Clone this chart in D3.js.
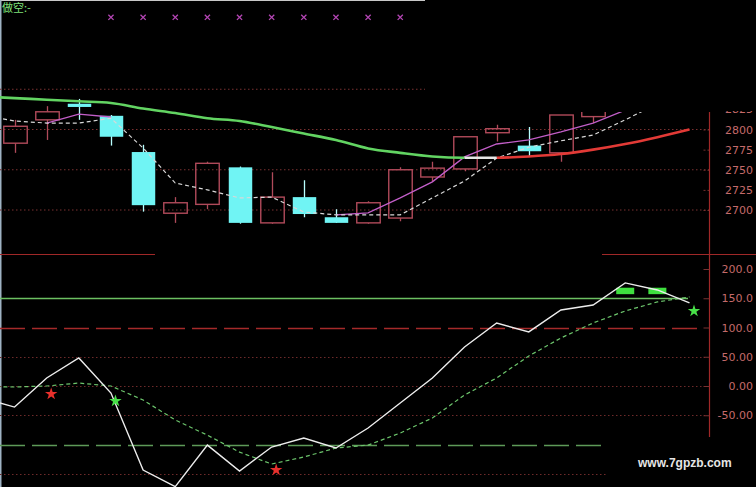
<!DOCTYPE html>
<html>
<head>
<meta charset="utf-8">
<script src="https://cdn.jsdelivr.net/npm/d3@7"></script>
<style>
  html, body { margin: 0; padding: 0; background: #000; overflow: hidden; }
  svg { display: block; }
</style>
</head>
<body>
<svg id="chart" width="756" height="487"></svg>
<script>
// ---- data ----
// bar slots 0..22; candles occupy slots 1..19
const slotCount = 23;
const candleSlots = d3.range(1, 20);
const opens  = [2783, 2812, 2832, 2817, 2772, 2696, 2707, 2753, 2684, 2716, 2691, 2684, 2690, 2741, 2751, 2796, 2780, 2771, 2816];
const highs  = [2812, 2829, 2838, 2818, 2781, 2716, 2760, 2754, 2747, 2737, 2701, 2711, 2753, 2760, 2791, 2806, 2803, 2818, 2830];
const lows   = [2771, 2787, 2812, 2780, 2698, 2684, 2701, 2683, 2683, 2691, 2684, 2683, 2686, 2735, 2748, 2785, 2766, 2760, 2808];
const closes = [2804, 2822, 2828, 2791, 2706, 2709, 2758, 2684, 2716, 2695, 2684, 2709, 2750, 2752, 2791, 2801, 2773, 2818, 2826];

// moving averages per slot (null where the line is not shown)
const maLong = [2841, 2839, 2837, 2835, 2833, 2826, 2820.5, 2814, 2810.5, 2803, 2795, 2787, 2776.5, 2771, 2766.5, 2765, 2765, 2766.5, 2769.5, 2775, 2782, 2790.5, 2800];
const maMid  = [2818, 2810.6, 2808, 2808, 2814, 2777, 2733.5, 2725, 2715, 2716, 2697.5, 2694, 2694, 2694, 2715, 2736, 2764.5, 2778, 2786, 2793, 2812, 2832, null];
const maFast = [null, null, 2808, 2819, 2815.5, null, null, null, null, null, null, 2694, 2696.5, 2715, 2735, 2766, 2782, 2787, 2797, 2808, 2824, null, null];

// oscillator panel
const oscLine   = [-20.5, -36, 13.7, 48, -12, -143.7, -172, -101, -145.4, -104.3, -89, -106, -71.8, -29, 13.7, 66.7, 107.7, 92.4, 130, 138.5, 176.2, 164.2, 142];
const oscSignal = [-1, -1.7, 0, 5, 0, -24, -58, -84, -113, -133.4, -121.4, -106, -101, -80.4, -54.7, -15.4, 13.7, 51.3, 82.1, 107.7, 128.3, 143.7, 152.2];
const blockSlots = [20, 21];
const blockLow   = [157, 157];
const blockHigh  = [168, 168];
const starSlots  = [2, 4, 9, 22];
const starValues = [-13.7, -25.7, -143.7, 128.3];
const starKinds  = ["buy", "sell", "buy", "sell"];
const oscLevels  = [150, 100, 50, 0, -50, -100, -150];

// signal markers on the top strip
const markSlots = d3.range(4, 14);
const titleText = "做空:-";

// axis ticks
const priceTicks = [2700, 2725, 2750, 2775, 2800, 2825];
const priceGrid  = [2700, 2750, 2800, 2850];
const oscTicks   = [200, 150, 100, 50, 0, -50];
const oscTickLabels = ["200.0", "150.0", "100.0", "50.00", "0.00", "-50.00"];
const siteText = "www.7gpzb.com";

// ---- scales ----
const svg = d3.select("#chart");
const W = 756, H = 487;
const axisX = 709.5;

const x = d3.scaleLinear().domain([0, slotCount - 1]).range([-17.6, 689.5]);
const step = x(1) - x(0);
const yP = d3.scaleLinear().domain([2700, 2800]).range([210, 129.5]);
const yO = d3.scaleLinear().domain([0, 200]).range([386, 269]);

svg.append("rect").attr("width", W).attr("height", H).attr("fill", "#000");

const defs = svg.append("defs");
// price pane: full height on the left part, lower band on the right part
const cpPrice = defs.append("clipPath").attr("id", "clipPrice");
cpPrice.append("rect").attr("x", 0).attr("y", 0).attr("width", 425).attr("height", 254);
cpPrice.append("rect").attr("x", 425).attr("y", 112).attr("width", axisX - 425).attr("height", 142);
const cpAxis = defs.append("clipPath").attr("id", "clipAxis");
cpAxis.append("rect").attr("x", axisX - 10).attr("y", 111).attr("width", W - axisX + 10).attr("height", 143);
defs.append("clipPath").attr("id", "clipOsc")
  .append("rect").attr("x", 0).attr("y", 256).attr("width", axisX).attr("height", H - 256);

// long average: one clip per colour, built from the direction of each step
const trendColour = { rise: "#e23a36", fall: "#62d462", flat: "#e6e6e6" };
const trendClips = {};
Object.keys(trendColour).forEach(k => {
  trendClips[k] = defs.append("clipPath").attr("id", "clipTrend-" + k);
});
for (let i = 0; i < maLong.length - 1; i++) {
  const d = maLong[i + 1] - maLong[i];
  const k = d > 0 ? "rise" : d < 0 ? "fall" : "flat";
  trendClips[k].append("rect").attr("x", x(i) - (i === 0 ? 4 : 0)).attr("y", 0)
    .attr("width", step + (i === maLong.length - 2 ? 4 : 0) + (i === 0 ? 4 : 0)).attr("height", 260);
}

// ---- frame ----
svg.append("line").attr("x1", 0).attr("x2", 425).attr("y1", 0.5).attr("y2", 0.5)
  .attr("stroke", "#c8c8c8").attr("stroke-width", 1);
svg.append("line").attr("x1", 0.75).attr("x2", 0.75).attr("y1", 0).attr("y2", H)
  .attr("stroke", "#9fb3c4").attr("stroke-width", 1.5);

svg.append("text").attr("x", 2).attr("y", 12)
  .attr("font-family", "Noto Sans CJK SC, sans-serif").attr("font-size", 11)
  .attr("fill", "#7fe07a").text(titleText);

// signal marks
const markG = svg.append("g");
markSlots.forEach(s => {
  const cx = x(s), cy = 17.3, r = 2.6;
  markG.append("path")
    .attr("d", `M${cx - r},${cy - r}L${cx + r},${cy + r}M${cx - r},${cy + r}L${cx + r},${cy - r}`)
    .attr("stroke", "#b546b5").attr("stroke-width", 1.3);
});

// ---- price pane ----
const price = svg.append("g").attr("clip-path", "url(#clipPrice)");
priceGrid.forEach(v => {
  price.append("line").attr("x1", 0).attr("x2", axisX).attr("y1", yP(v)).attr("y2", yP(v))
    .attr("stroke", "#7a3030").attr("stroke-width", 1).attr("stroke-dasharray", "1.5,2.5");
});

// candles
const up = "#b04a5a", down = "#70f4f4";
candleSlots.forEach((s, i) => {
  const o = opens[i], h = highs[i], l = lows[i], c = closes[i];
  const cx = Math.round(x(s)) + 0.5;
  const bw = step * 0.73;
  const top = yP(Math.max(o, c)), bot = yP(Math.min(o, c));
  if (c >= o) {
    price.append("line").attr("x1", cx).attr("x2", cx).attr("y1", yP(h)).attr("y2", top)
      .attr("stroke", up).attr("stroke-width", 1.3);
    price.append("line").attr("x1", cx).attr("x2", cx).attr("y1", bot).attr("y2", yP(l))
      .attr("stroke", up).attr("stroke-width", 1.3);
    price.append("rect").attr("x", cx - bw / 2).attr("y", top)
      .attr("width", bw).attr("height", Math.max(bot - top, 1))
      .attr("fill", "none").attr("stroke", up).attr("stroke-width", 1.4);
  } else {
    price.append("line").attr("x1", cx).attr("x2", cx).attr("y1", yP(h)).attr("y2", yP(l))
      .attr("stroke", "#b8ffff").attr("stroke-width", 1.3);
    price.append("rect").attr("x", cx - bw / 2).attr("y", top)
      .attr("width", bw).attr("height", Math.max(bot - top, 2.5))
      .attr("fill", down);
  }
});

const lineP = d3.line().defined(d => d != null).x((d, i) => x(i)).y(d => yP(d));
price.append("path").datum(maFast).attr("d", lineP)
  .attr("fill", "none").attr("stroke", "#c25ec8").attr("stroke-width", 1.3);
price.append("path").datum(maMid).attr("d", lineP)
  .attr("fill", "none").attr("stroke", "#d8d8d8").attr("stroke-width", 1.2)
  .attr("stroke-dasharray", "4,3");

// long average, smooth, coloured by direction
const lineLong = d3.line().curve(d3.curveMonotoneX).x((d, i) => x(i)).y(d => yP(d));
Object.keys(trendColour).forEach(k => {
  price.append("g").attr("clip-path", `url(#clipTrend-${k})`)
    .append("path").datum(maLong).attr("d", lineLong)
    .attr("fill", "none").attr("stroke", trendColour[k]).attr("stroke-width", 2.6);
});

// price axis (clip on outer group, transform on inner group)
const pAxis = svg.append("g").attr("clip-path", "url(#clipAxis)")
  .append("g").attr("transform", `translate(${axisX},0)`)
  .call(d3.axisRight(yP).tickValues(priceTicks).tickSizeInner(-7).tickSizeOuter(0).tickFormat(d3.format("d")));
pAxis.select(".domain").remove();
pAxis.selectAll(".tick line").attr("stroke", "#7a3030").attr("stroke-dasharray", "2,2");
pAxis.selectAll(".tick text").attr("x", 43.5).attr("text-anchor", "end")
  .attr("fill", "#c46a6a").attr("font-family", "DejaVu Sans, sans-serif").attr("font-size", 11);

// ---- separators and axis line ----
const sep = "#a02828";
svg.append("line").attr("x1", 0).attr("x2", 155).attr("y1", 254.5).attr("y2", 254.5)
  .attr("stroke", sep).attr("stroke-width", 1.2);
svg.append("line").attr("x1", 602).attr("x2", W).attr("y1", 254.5).attr("y2", 254.5)
  .attr("stroke", sep).attr("stroke-width", 1.2);
svg.append("line").attr("x1", axisX).attr("x2", axisX).attr("y1", 112).attr("y2", 437)
  .attr("stroke", sep).attr("stroke-width", 1.2);

// ---- oscillator pane ----
const osc = svg.append("g").attr("clip-path", "url(#clipOsc)");
const levelStyle = {
  "150":  { stroke: "#6cbf62", dash: null, x2: 688, w: 1.3 },
  "100":  { stroke: "#a52a2a", dash: "25,7", x2: 703, w: 1.4 },
  "50":   { stroke: "#6e2a2a", dash: "1.5,2.5", x2: 705, w: 1 },
  "0":    { stroke: "#6e2a2a", dash: "1.5,2.5", x2: 705, w: 1 },
  "-50":  { stroke: "#6e2a2a", dash: "1.5,2.5", x2: 705, w: 1 },
  "-100": { stroke: "#5e9a58", dash: "25,7", x2: 608, w: 1.4 },
  "-150": { stroke: "#6e2a2a", dash: "1.5,2.5", x2: 608, w: 1 }
};
oscLevels.forEach(v => {
  const st = levelStyle[String(v)];
  const ln = osc.append("line").attr("x1", 0).attr("x2", st.x2)
    .attr("y1", Math.round(yO(v)) + 0.5).attr("y2", Math.round(yO(v)) + 0.5)
    .attr("stroke", st.stroke).attr("stroke-width", st.w);
  if (st.dash) ln.attr("stroke-dasharray", st.dash);
});

blockSlots.forEach((s, i) => {
  osc.append("rect").attr("x", x(s) - 9).attr("y", yO(blockHigh[i]))
    .attr("width", 18).attr("height", yO(blockLow[i]) - yO(blockHigh[i]))
    .attr("fill", "#3fe03f");
});

const lineO = d3.line().x((d, i) => x(i)).y(d => yO(d));
osc.append("path").datum(oscSignal).attr("d", lineO)
  .attr("fill", "none").attr("stroke", "#6cc56c").attr("stroke-width", 1.2)
  .attr("stroke-dasharray", "4,3");
osc.append("path").datum(oscLine).attr("d", lineO)
  .attr("fill", "none").attr("stroke", "#ececec").attr("stroke-width", 1.4);

const star = d3.symbol().type(d3.symbolStar).size(48);
starSlots.forEach((s, i) => {
  osc.append("path").attr("d", star)
    .attr("transform", `translate(${x(s) + 4.5},${yO(starValues[i])})`)
    .attr("fill", starKinds[i] === "buy" ? "#e8302c" : "#48e048");
});

// oscillator axis
const oAxis = svg.append("g").attr("transform", `translate(${axisX},0)`)
  .call(d3.axisRight(yO).tickValues(oscTicks).tickSizeInner(-6).tickSizeOuter(0)
    .tickFormat((d, i) => oscTickLabels[i]));
oAxis.select(".domain").remove();
oAxis.selectAll(".tick line").attr("stroke", "#7a3030");
oAxis.selectAll(".tick text").attr("x", 43.5).attr("text-anchor", "end")
  .attr("fill", "#c46a6a").attr("font-family", "DejaVu Sans, sans-serif").attr("font-size", 11);

// site mark
svg.append("text").attr("x", 638).attr("y", 467)
  .attr("font-family", "Liberation Sans, Arial, sans-serif").attr("font-weight", "bold")
  .attr("font-size", 12).attr("fill", "#e6e6e6").text(siteText);
</script>
</body>
</html>
